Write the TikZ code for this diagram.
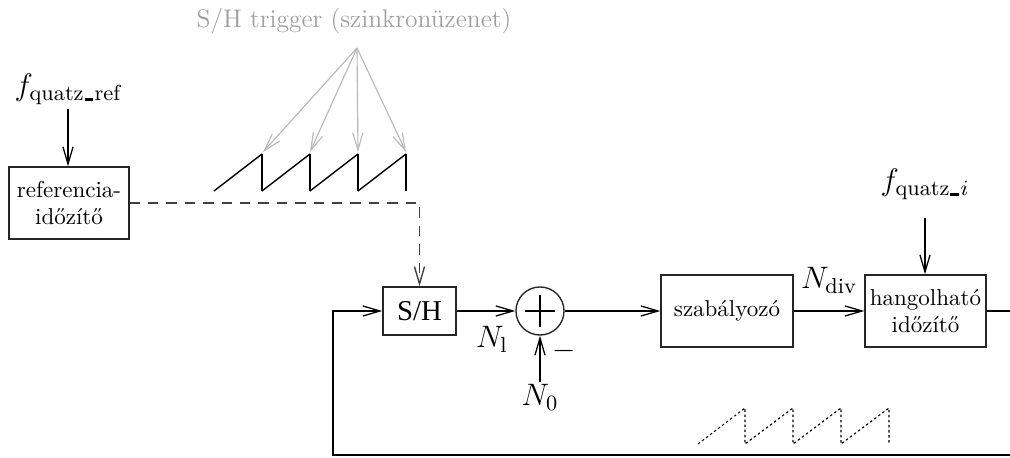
\RequirePackage{fix-cm}
\documentclass[tikz,border=0pt]{standalone}
\usepackage{fontspec}
\newfontfamily\timesfont{Liberation Serif}
\usetikzlibrary{arrows.meta}
\newcommand{\ubar}{\mbox{\kern0.4pt\rule{3.8pt}{1.1pt}\kern0.6pt}}
\begin{document}
\begin{tikzpicture}[x=0.435pt,y=-0.435pt,
  blk/.style={draw=black!85,line width=0.6pt,inner sep=0pt,align=center,font=\fontsize{10}{11.8}\selectfont},
  arr/.style={line width=0.55pt,-{Straight Barb[length=7.5pt,width=4.4pt]}},
  mlab/.style={inner sep=0pt,anchor=base,font=\fontsize{13.5}{16}\selectfont},
  trig/.style={gray!55,line width=0.5pt,-{Straight Barb[length=7.5pt,width=4.4pt]}},
  saw/.style={line width=0.6pt},
  sawv/.style={line width=1pt},
  dsh/.style={black!75,line width=0.6pt,dash pattern=on 4.5pt off 3.5pt},
  dots/.style={line width=0.45pt,dash pattern=on 1.1pt off 1.1pt},
]
\useasboundingbox (0,0) rectangle (1010,458);

% blocks
\node[blk,minimum width=52.2pt,minimum height=31.3pt] (ref) at (69,203) {referencia-\\időzítő};
\node[blk,minimum width=31.8pt,minimum height=20.9pt,font=\timesfont\fontsize{12.5}{14}\selectfont] (sh) at (419.5,311) {S/H};
\node[draw=black!85,circle,minimum size=20.9pt,inner sep=0pt,line width=0.6pt] (sum) at (540,311) {};
\node[blk,minimum width=57.4pt,minimum height=31.3pt] (szab) at (727,311) {szabályozó};
\node[blk,minimum width=52.6pt,minimum height=31.3pt] (hang) at (925.5,311) {hangolható\\időzítő};

% plus sign
\draw[line width=0.55pt] ([xshift=-6.5pt]sum.center) -- ([xshift=6.5pt]sum.center);
\draw[line width=0.55pt] ([yshift=7pt]sum.center) -- ([yshift=-7pt]sum.center);

% labels
\node[mlab] (fref) at (68,96) {$f_{\mathrm{quatz\ubar ref}}$};
\node[mlab] (fi) at (925,191) {$f_{\mathrm{quatz\ubar}i}$};
\node[mlab] (ndiv) at (829,289) {$N_{\mathrm{div}}$};
\node[mlab] (nl) at (492,348) {$N_{\mathrm{l}}$};
\node[mlab] (n0) at (540,406) {$N_0$};
\node[inner sep=0pt,font=\fontsize{13}{15}\selectfont] (minus) at (564.5,351) {$-$};
\node[inner sep=0pt,anchor=base,text=gray!75,font=\fontsize{11.1}{13}\selectfont] (trg) at (354,27.7) {S/H trigger (szinkronüzenet)};

% connectors
\draw[arr] ([yshift=-1.5pt]fref.south) -- (fref.south |- ref.north);
\draw[arr] ([yshift=-7.8pt]fi.south) -- (fi.south |- hang.north);
\draw[dsh,-{Straight Barb[length=7.5pt,width=4.4pt]}] (ref.east) -- (sh.north |- ref.east) -- (sh.north);
\draw[arr] (sh.east) -- (sum.west);
\draw[arr] ([yshift=1pt]sum.south |- n0.north) -- (sum.south);
\draw[arr] (sum.east) -- (szab.west);
\draw[arr] (szab.east) -- (hang.west);
\coordinate (r1) at (1013,311);
\coordinate (r2) at (1013,455);
\coordinate (l1) at (333,455);
\draw[arr] (hang.east) -- (r1) -- (r2) -- (l1) -- (l1 |- sh.west) -- (sh.west);

% trigger arrows
\coordinate (g) at (357,48);
\coordinate (t1) at (263,152);
\coordinate (t2) at (310,152);
\coordinate (t3) at (358,152);
\coordinate (t4) at (406,152);
\foreach \t in {t1,t2,t3,t4} \draw[trig] (g) -- (\t);

% sampled sawtooth
\draw[saw] (214,191) -- (262,154) (262,191) -- (310,154) (310,191) -- (358,154) (358,191) -- (406,154);
\draw[sawv] (262,154) -- (262,191) (310,154) -- (310,191) (358,154) -- (358,191) (406,154) -- (406,191);

% dotted sawtooth
\draw[dots] (698,444) -- (745,408) -- (745,444) -- (793,408) -- (793,444) -- (841,408) -- (841,444) -- (889,408) -- (889,444);
\end{tikzpicture}
\end{document}
